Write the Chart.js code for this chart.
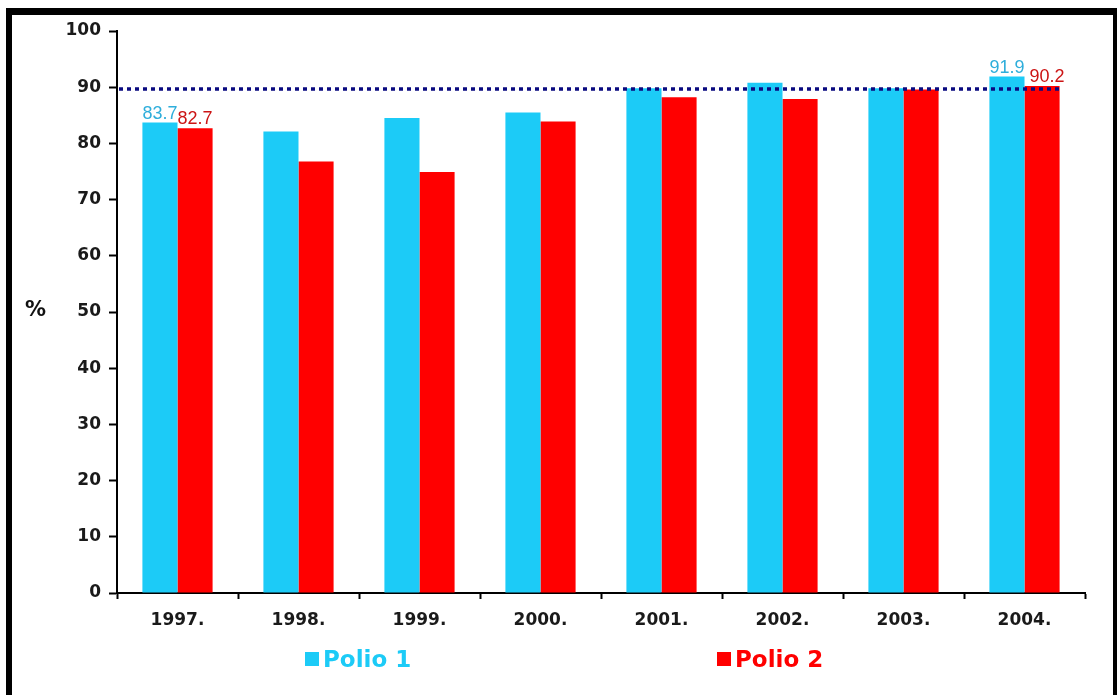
<!DOCTYPE html>
<html>
<head>
<meta charset="utf-8">
<script src="https://cdn.jsdelivr.net/npm/chart.js@4/dist/chart.umd.min.js"></script>
<style>
  html, body { margin: 0; padding: 0; background: #fff; }
  #wrap { position: relative; width: 1117px; height: 695px; overflow: hidden; }
  #frame {
    position: absolute; left: 6px; top: 8px; width: 1111px; height: 700px;
    box-sizing: border-box; border-top: 7px solid #000; border-left: 6px solid #000;
    border-right: 4px solid #000; pointer-events: none;
  }
  #ylabel {
    position: absolute; left: 25px; top: 297px;
    font: bold 21px "DejaVu Sans", sans-serif; color: #111;
  }
  .leg {
    position: absolute; top: 646px; font: bold 23px "DejaVu Sans", sans-serif;
    display: flex; align-items: center;
  }
  .leg i { display: inline-block; width: 14px; height: 14px; margin-right: 4px; }
</style>
</head>
<body>
<div id="wrap">
  <canvas id="polioChart" width="1117" height="695"></canvas>
  <div id="frame"></div>
  <div id="ylabel">%</div>
  <div class="leg" id="leg1" style="left:305px"><i></i><span></span></div>
  <div class="leg" id="leg2" style="left:717px"><i></i><span></span></div>
</div>
<script>
// obuhvat cijepljenjem protiv dječje paralize po godinama
const godine = ['1997.', '1998.', '1999.', '2000.', '2001.', '2002.', '2003.', '2004.'];
const polio1 = [83.7, 82.1, 84.5, 85.5, 89.8, 90.8, 89.8, 91.9];
const polio2 = [82.7, 76.8, 74.9, 83.9, 88.2, 87.9, 89.6, 90.2];
const nazivi = ['Polio 1', 'Polio 2'];
const boje = ['#1ccbf7', '#ff0000'];
const bojeOznaka = ['#2eaedb', '#cc1414'];
const ciljniObuhvat = 89.7;      // isprekidana crta
const oznaceneGodine = [0, 7];   // godine s ispisanom vrijednosti

// legenda ispod grafa
[1, 2].forEach((n, i) => {
    const el = document.getElementById('leg' + n);
    el.style.color = boje[i];
    el.querySelector('i').style.background = boje[i];
    el.querySelector('span').textContent = nazivi[i];
});

const ciljnaCrta = {
    id: 'ciljnaCrta',
    afterDatasetsDraw(chart) {
        const { ctx, chartArea, scales } = chart;
        const y = scales.y.getPixelForValue(ciljniObuhvat);
        const zadnji = chart.getDatasetMeta(1).data[godine.length - 1];
        ctx.save();
        ctx.strokeStyle = '#0a0a80';
        ctx.lineWidth = 3.5;
        ctx.setLineDash([4, 4]);
        ctx.beginPath();
        ctx.moveTo(chartArea.left + 2, y);
        ctx.lineTo(zadnji.x + zadnji.width / 2, y);
        ctx.stroke();
        ctx.restore();
    }
};

const vrijednosti = {
    id: 'vrijednosti',
    afterDatasetsDraw(chart) {
        const ctx = chart.ctx;
        ctx.save();
        ctx.font = '18px "Liberation Sans", Arial, sans-serif';
        ctx.textAlign = 'center';
        ctx.textBaseline = 'alphabetic';
        chart.data.datasets.forEach((ds, d) => {
            const meta = chart.getDatasetMeta(d);
            oznaceneGodine.forEach(i => {
                const bar = meta.data[i];
                ctx.fillStyle = bojeOznaka[d];
                ctx.fillText(ds.data[i].toFixed(1), bar.x + (i === 7 && d === 1 ? 5 : 0), bar.y - 4);
            });
        });
        ctx.restore();
    }
};

new Chart(document.getElementById('polioChart'), {
    type: 'bar',
    data: {
        labels: godine,
        datasets: [
            { label: nazivi[0], data: polio1, backgroundColor: boje[0] },
            { label: nazivi[1], data: polio2, backgroundColor: boje[1] }
        ]
    },
    options: {
        responsive: false,
        animation: false,
        events: [],
        categoryPercentage: 0.58,
        barPercentage: 1.0,
        layout: { padding: { left: 20, right: 32, top: 31, bottom: 62 } },
        plugins: {
            legend: { display: false },
            tooltip: { enabled: false }
        },
        scales: {
            x: {
                grid: {
                    drawOnChartArea: false,
                    tickLength: 6,
                    tickColor: '#000',
                    tickWidth: 2
                },
                border: { color: '#000', width: 2 },
                ticks: {
                    color: '#1a1a1a',
                    padding: 11,
                    font: { family: '"DejaVu Sans", sans-serif', size: 17, weight: 'bold' }
                },
                afterFit(scale) { scale.height = 40; }
            },
            y: {
                min: 0,
                max: 100,
                ticks: {
                    stepSize: 10,
                    color: '#1a1a1a',
                    padding: 8,
                    font: { family: '"DejaVu Sans", sans-serif', size: 17, weight: 'bold' }
                },
                grid: {
                    drawOnChartArea: false,
                    tickLength: 8,
                    tickColor: '#000',
                    tickWidth: 2
                },
                border: { color: '#000', width: 2 },
                afterFit(scale) { scale.width = 97; }
            }
        }
    },
    plugins: [ciljnaCrta, vrijednosti]
});
</script>
</body>
</html>
